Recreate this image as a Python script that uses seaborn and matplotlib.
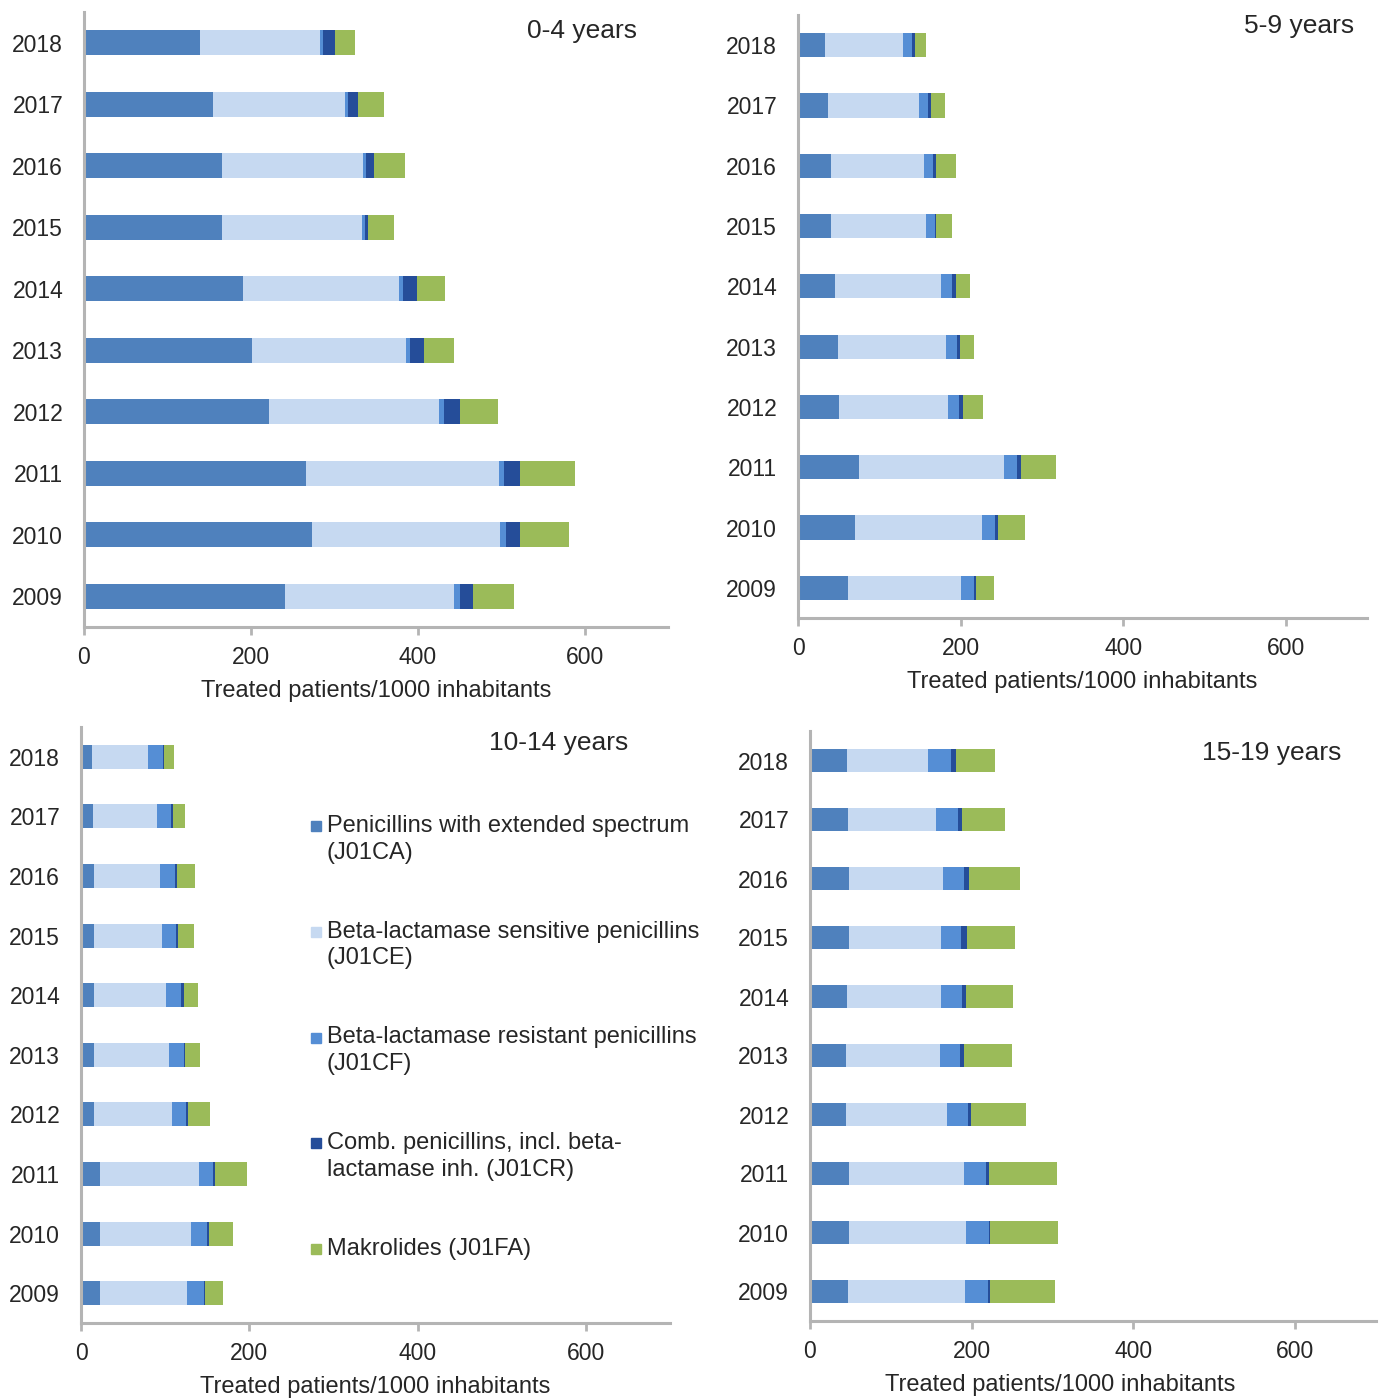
import numpy as np
import pandas as pd
import matplotlib
matplotlib.use('Agg')
import matplotlib.pyplot as plt
import seaborn as sns
from matplotlib.patches import Rectangle

sns.set_style('white')
plt.rcParams['font.family'] = ['Liberation Sans', 'DejaVu Sans']

W, H = 1386, 1399

years = ['2018', '2017', '2016', '2015', '2014', '2013', '2012', '2011', '2010', '2009']
groups = ['J01CA', 'J01CE', 'J01CF', 'J01CR', 'J01FA']
legend_labels = [
    'Penicillins with extended spectrum\n(J01CA)',
    'Beta-lactamase sensitive penicillins\n(J01CE)',
    'Beta-lactamase resistant penicillins\n(J01CF)',
    'Comb. penicillins, incl. beta-\nlactamase inh. (J01CR)',
    'Makrolides (J01FA)',
]
colors = ['#4F81BD', '#C6D9F1', '#558ED5', '#254D99', '#9BBB59']

# 0-4 years
age_0_4 = {
    'J01CA': [139, 155, 166, 166, 190, 201, 222, 266, 273, 241],
    'J01CE': [144, 158, 168, 167, 187, 185, 204, 232, 226, 203],
    'J01CF': [4, 4, 4, 4, 5, 5, 5, 6, 7, 7],
    'J01CR': [14, 12, 10, 3, 17, 17, 20, 19, 17, 15],
    'J01FA': [24, 30, 37, 32, 34, 35, 45, 66, 58, 49],
}
# 5-9 years
age_5_9 = {
    'J01CA': [33, 37, 40, 40, 45, 49, 50, 75, 70, 62],
    'J01CE': [96, 112, 115, 117, 131, 133, 135, 178, 156, 138],
    'J01CF': [11, 11, 11, 12, 13, 13, 13, 16, 16, 17],
    'J01CR': [4, 4, 4, 1, 5, 4, 5, 5, 4, 2],
    'J01FA': [13, 17, 24, 19, 17, 17, 25, 43, 33, 22],
}
# 10-14 years
age_10_14 = {
    'J01CA': [13, 14, 15, 15, 16, 16, 16, 22, 23, 22],
    'J01CE': [67, 76, 79, 81, 85, 88, 92, 118, 108, 104],
    'J01CF': [17, 17, 18, 17, 18, 18, 17, 17, 19, 20],
    'J01CR': [2, 2, 2, 2, 3, 2, 2, 2, 2, 1],
    'J01FA': [11, 15, 21, 19, 17, 18, 26, 38, 29, 22],
}
# 15-19 years
age_15_19 = {
    'J01CA': [46, 47, 48, 48, 46, 44, 45, 48, 48, 47],
    'J01CE': [100, 109, 116, 114, 116, 117, 124, 142, 145, 145],
    'J01CF': [28, 27, 26, 25, 26, 25, 26, 28, 28, 28],
    'J01CR': [6, 5, 7, 7, 5, 5, 4, 3, 2, 2],
    'J01FA': [49, 53, 63, 59, 58, 59, 68, 84, 84, 81],
}

# panel boxes in pixels: left, top, right, bottom
panels = [
    (age_0_4, '0-4 years', (84, 12, 668, 627), (637, 31), 376),
    (age_5_9, '5-9 years', (798, 15, 1367, 618), (1354, 26), 1082),
    (age_10_14, '10-14 years', (81, 727, 670, 1323), (628, 743), 375),
    (age_15_19, '15-19 years', (810, 731, 1376, 1321), (1341, 753), 1060),
]

gray = '#B4B4B4'
txt = '#262626'
fs = 16.5

fig = plt.figure(figsize=(W / 100, H / 100), dpi=100)

for data, title, (l, t, r, b), (tx, ty), xlab_c in panels:
    ax = fig.add_axes([l / W, 1 - b / H, (r - l) / W, (b - t) / H])
    df = pd.DataFrame(data, index=years)
    cum = df[groups].cumsum(axis=1)
    # draw cumulative totals from largest to smallest so segments stack
    for g, c in zip(reversed(groups), reversed(colors)):
        sns.barplot(x=cum[g].values, y=years, order=years, orient='h',
                    color=c, saturation=1, width=0.4, ax=ax, linewidth=0)
    ax.set_xlim(0, 700)
    ax.set_ylim(9.5, -0.5)
    ax.set_xticks([0, 200, 400, 600])
    ax.set_yticks(np.arange(-0.5, 10, 1), minor=True)
    ax.tick_params(axis='y', which='major', length=0, pad=15, labelsize=fs, labelcolor=txt)
    ax.tick_params(axis='y', which='minor', length=6, width=2, color=gray, direction='out')
    ax.tick_params(axis='x', which='major', length=6, width=2, color=gray, direction='out',
                   bottom=True, pad=8, labelsize=fs, labelcolor=txt)
    for s in ['top', 'right']:
        ax.spines[s].set_visible(False)
    for s in ['left', 'bottom']:
        ax.spines[s].set_color(gray)
        ax.spines[s].set_linewidth(2.2)
    ax.set_ylabel('')
    ax.set_xlabel('')
    fig.text(tx / W, 1 - ty / H, title, ha='right', va='center', fontsize=19, color=txt)
    fig.text(xlab_c / W, 1 - (b + 64) / H, 'Treated patients/1000 inhabitants',
             ha='center', va='center', fontsize=17, color=txt)

# legend in the 10-14 panel
y0 = 826
for i, (lab, c) in enumerate(zip(legend_labels, colors)):
    yc = y0 + i * 105.75
    fig.patches.append(Rectangle((311 / W, 1 - (yc + 5) / H), 10 / W, 10 / H,
                                 transform=fig.transFigure, color=c))
    for j, line in enumerate(lab.split('\n')):
        fig.text(327 / W, 1 - (yc + j * 26.5) / H, line, ha='left', va='center',
                 fontsize=17, color=txt)

fig.savefig('out.png', dpi=100)
